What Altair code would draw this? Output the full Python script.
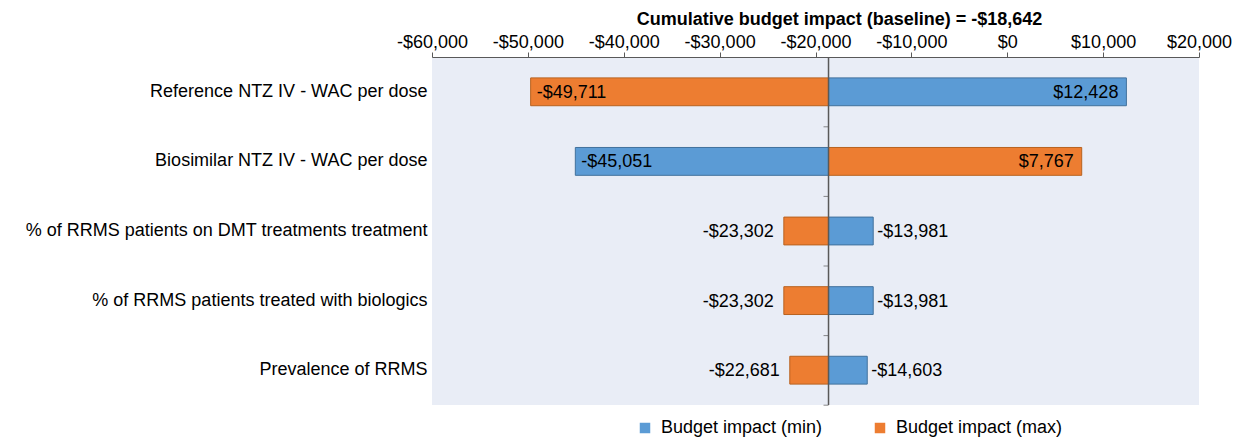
import altair as alt
import pandas as pd

categories = [
    "Reference NTZ IV - WAC per dose",
    "Biosimilar NTZ IV - WAC per dose",
    "% of RRMS patients on DMT treatments treatment",
    "% of RRMS patients treated with biologics",
    "Prevalence of RRMS",
]
min_values = [12428, -45051, -13981, -13981, -14603]
max_values = [-49711, 7767, -23302, -23302, -22681]
baseline = -18642
series_names = ["Budget impact (min)", "Budget impact (max)"]
tick_values = [-60000, -50000, -40000, -30000, -20000, -10000, 0, 10000, 20000]


def money(v):
    return ("-" if v < 0 else "") + "${:,}".format(abs(v))


rows = []
for cat, vmin, vmax in zip(categories, min_values, max_values):
    for name, v in ((series_names[0], vmin), (series_names[1], vmax)):
        left = v < baseline
        inside = abs(v - baseline) > 15000
        rows.append({
            "cat": cat, "series": name, "value": v, "base": baseline,
            "label": money(v),
            "pos": ("in" if inside else "out") + ("L" if left else "R"),
        })
df = pd.DataFrame(rows)

BLUE, ORANGE = "#5B9BD5", "#ED7D31"
FS = 18
y_enc = alt.Y("cat:N", sort=categories, title=None,
              scale=alt.Scale(paddingInner=0.6, paddingOuter=0.3),
              axis=alt.Axis(domain=False, ticks=False, labelFontSize=FS,
                            labelColor="black", labelPadding=5, labelLimit=600))
x_scale = alt.Scale(domain=[-60000, 20000], nice=False)

base = alt.Chart(df)

bars = base.mark_bar(strokeWidth=1).encode(
    x=alt.X("base:Q", scale=x_scale,
            axis=alt.Axis(orient="top", values=tick_values, grid=False, title=None,
                          labelExpr="(datum.value < 0 ? '-' : '') + '$' + format(abs(datum.value), ',')",
                          labelFontSize=FS, labelColor="black", domainColor="#595959",
                          labelOverlap=False, labelBound=False, labelFlush=False,
                          tickColor="#595959", tickSize=5, labelPadding=1)),
    x2="value:Q",
    y=y_enc,
    color=alt.Color("series:N", scale=alt.Scale(domain=series_names, range=[BLUE, ORANGE]),
                    sort=series_names,
                    legend=alt.Legend(title=None, orient="none", legendX=204, legendY=362,
                                      direction="horizontal", symbolType="square",
                                      symbolSize=110, labelFontSize=FS, labelColor="black",
                                      columnPadding=48, labelOffset=7, symbolStrokeWidth=0,
                                      labelLimit=400)),
    stroke=alt.Stroke("series:N", scale=alt.Scale(domain=series_names, range=["#41719C", "#B8621F"]),
                      legend=None),
)

rule = alt.Chart(pd.DataFrame({"b": [baseline]})).mark_rule(color="#595959", strokeWidth=1.5).encode(
    x=alt.X("b:Q", scale=x_scale)
)

ticks = alt.Chart(pd.DataFrame({"cat": categories, "b": [baseline] * len(categories)})).mark_tick(
    orient="horizontal", size=5, thickness=1, color="#595959", yOffset=35, xOffset=-2.5
).encode(x=alt.X("b:Q", scale=x_scale), y=alt.Y("cat:N", sort=categories))

def text_layer(pos, align, dx):
    return base.transform_filter(alt.datum.pos == pos).mark_text(
        align=align, baseline="middle", dx=dx, dy=1, fontSize=FS, color="black"
    ).encode(x=alt.X("value:Q", scale=x_scale), y=alt.Y("cat:N", sort=categories), text="label:N")

texts = (text_layer("inL", "left", 6) + text_layer("inR", "right", -8)
         + text_layer("outL", "right", -10) + text_layer("outR", "left", 4))

chart = alt.layer(bars, rule, ticks, texts).properties(
    width=767, height=348,
    autosize=alt.AutoSizeParams(type="none"),
    padding={"left": 432, "top": 57, "right": 41, "bottom": 36},
    title=alt.TitleParams("Cumulative budget impact (baseline) = " + money(baseline),
                          fontSize=18, fontWeight="bold", anchor="middle", dx=24, offset=4,
                          color="black"),
).configure(font="Liberation Sans").configure_view(fill="#E9EDF6", stroke=None)

chart.save("out.html", embed_options={"renderer": "svg", "actions": False})
